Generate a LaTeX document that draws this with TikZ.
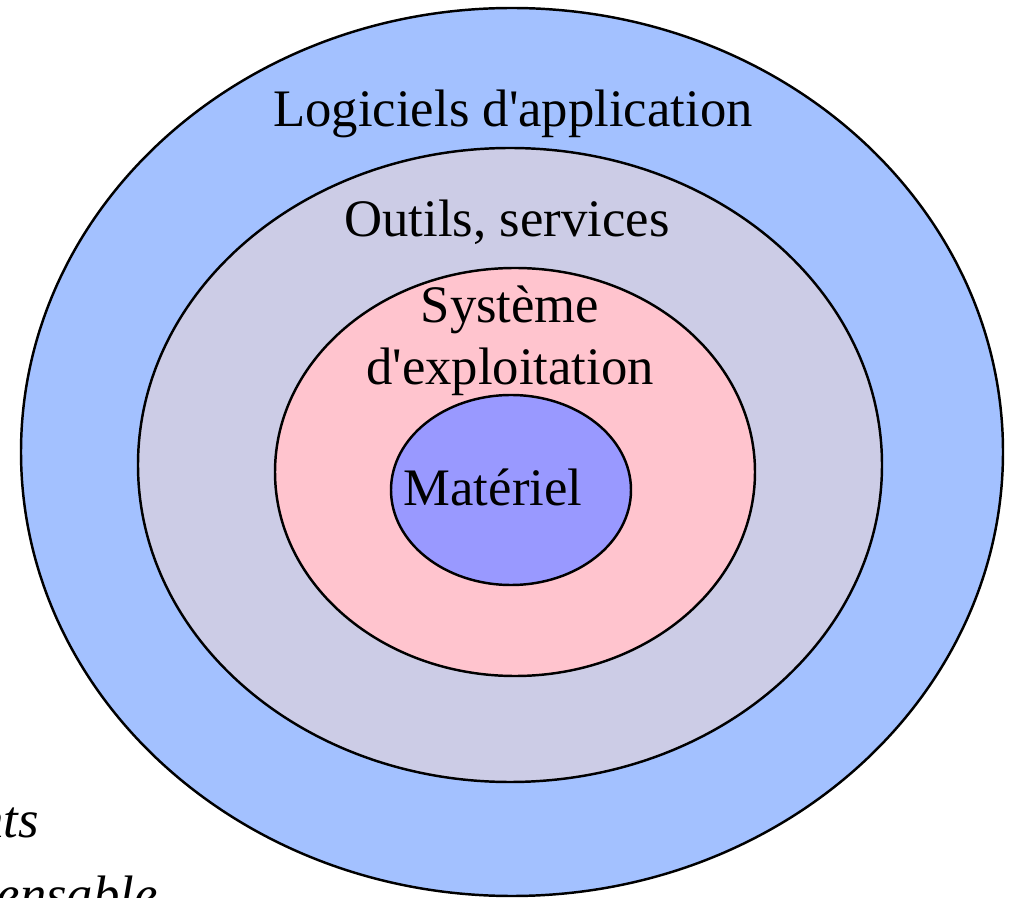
\documentclass[tikz,border=0pt]{standalone}
\usepackage{fontspec}
\setmainfont{Liberation Serif}
\definecolor{cOuter}{HTML}{A3C1FF}
\definecolor{cTools}{HTML}{CCCCE6}
\definecolor{cOS}{HTML}{FFC4CE}
\definecolor{cHw}{HTML}{9999FF}
\begin{document}
\begin{tikzpicture}[x=0.02cm,y=-0.02cm,
  ring/.style={draw=black,line width=1.4pt},
  lbl/.style={font=\fontsize{30}{35}\selectfont,inner sep=0pt,anchor=base},
  side/.style={font=\fontsize{30}{35}\selectfont\itshape,inner sep=0pt,anchor=base east}]
\useasboundingbox (0,0) rectangle (1012,898);
\path[ring,fill=cOuter] (512,452) ellipse [x radius=491, y radius=444];
\path[ring,fill=cTools] (510,465) ellipse [x radius=372, y radius=317];
\path[ring,fill=cOS] (515,472) ellipse [x radius=240, y radius=204];
\path[ring,fill=cHw] (511,490) ellipse [x radius=120, y radius=95];
\node[lbl] (app) at (513,127) {Logiciels d\textquotesingle application};
\node[lbl] (tools) at (507,237) {Outils, services};
\node[lbl] (os1) at (510,323) {Système};
\node[lbl] (os2) at (510,385) {d\textquotesingle exploitation};
\node[lbl] (hw) at (493,506) {Matériel};
\node[side] (s1) at (39,838) {Composants};
\node[side] (s2) at (158,912) {indispensable};
\end{tikzpicture}
\end{document}
